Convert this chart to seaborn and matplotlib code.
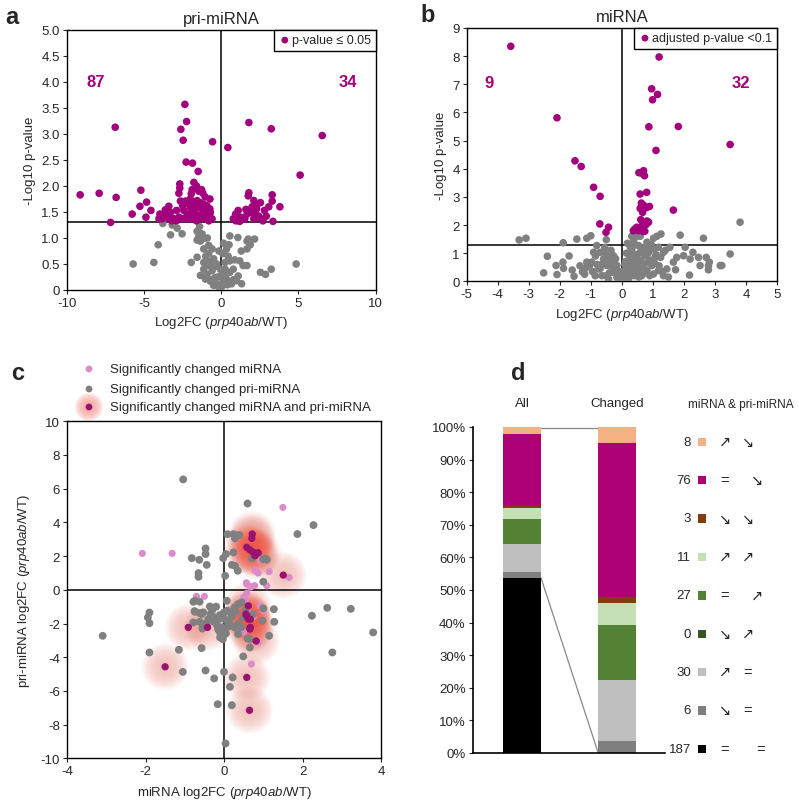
import numpy as np
import pandas as pd
import matplotlib
matplotlib.use("Agg")
import matplotlib.pyplot as plt
from matplotlib.patches import Rectangle
from matplotlib.ticker import FuncFormatter, MultipleLocator
import seaborn as sns

# --- DATA ---
# panel a: pri-miRNA volcano
A_SIG_X = [-9.13, -7.90, -6.86, -6.80, -7.16, -5.76, -5.20, -5.26, -4.83, -4.87, -4.55, -3.97,
           -3.62, -3.39, -4.03, -3.82, -3.60, -3.39, -3.28, -3.07, -2.89, -2.74, -2.74, -2.68,
           -2.68, -2.64, -2.61, -2.53, -2.46, -2.42, -2.35, -2.31, -2.31, -2.27, -2.24, -2.20,
           -2.10, -2.03, -1.99, -1.94, -1.94, -1.88, -1.86, -1.82, -1.77, -1.77, -1.77, -1.67,
           -1.60, -1.56, -1.49, -1.49, -1.49, -1.41, -1.35, -1.27, -1.24, -1.24, -1.19, -1.13,
           -1.13, -1.04, -1.02, -1.02, -0.92, -0.87, -0.73, -0.73, -0.70, -0.59, -0.56, -2.90,
           -2.50, -1.60, -0.80, -3.20, -2.00, -1.45,
           0.43, 0.78, 0.93, 1.10, 1.25, 1.53, 1.67, 1.75, 1.79, 1.79, 1.90, 2.00, 2.11, 2.11,
           2.29, 2.33, 2.43, 2.54, 2.54, 2.80, 2.92, 3.08, 3.24, 3.30, 3.30, 3.35, 3.80, 5.11,
           6.54, 1.20, 2.20, 0.95, 1.60, 2.70]
A_SIG_Y = [1.83, 1.86, 3.13, 1.78, 1.30, 1.46, 1.92, 1.61, 1.69, 1.40, 1.53, 1.46,
           1.54, 1.61, 1.37, 1.37, 1.42, 1.37, 1.49, 1.37, 1.53, 1.40, 1.86, 2.04,
           1.96, 1.71, 3.09, 1.37, 2.88, 1.53, 3.57, 1.71, 1.38, 2.46, 3.24, 1.46,
           1.65, 1.37, 1.59, 1.85, 1.49, 1.93, 2.44, 1.68, 2.07, 1.57, 1.38, 1.46,
           2.00, 1.72, 2.28, 1.59, 1.37, 1.44, 1.68, 1.93, 1.56, 1.38, 1.86, 1.65,
           1.46, 1.79, 1.53, 1.37, 1.62, 1.42, 1.75, 1.56, 1.49, 1.37, 2.85, 1.33,
           1.62, 1.33, 1.33, 1.33, 1.75, 1.90,
           2.74, 1.37, 1.46, 1.53, 1.40, 1.37, 1.46, 1.81, 1.87, 3.22, 1.49, 1.60, 1.72, 1.37,
           1.56, 1.65, 1.42, 1.68, 1.37, 1.53, 1.42, 1.60, 3.10, 1.83, 1.71, 1.32, 1.60, 2.21,
           2.97, 1.32, 1.48, 1.33, 1.55, 1.33]
A_NS_X = [-5.70, -4.36, -4.08, -3.78, -3.28, -3.17, -2.85, -2.53, -1.94, -1.56, -1.56, -1.56,
          -1.45, -1.40, -1.35, -1.35, -1.24, -1.13, -1.13, -1.13, -1.13, -1.02, -0.92, -0.81,
          -0.81, -0.81, -0.70, -0.59, -0.59, -0.49, -0.49, -0.38, -0.27, -0.17, -0.06, 0.00,
          0.03, 0.14, 0.25, 0.25, 0.35, 0.35, 0.51, 0.56, 0.56, 0.56, 0.67, 0.78, 0.88, 0.99,
          1.08, 1.10, 1.20, 1.32, 1.42, 1.67, 1.67, 1.67, 1.75, 1.88, 2.16, 2.54, 2.87, 3.24,
          4.85, -0.30, 0.10, -0.90, 0.40, -0.60, -0.20, 0.20, -0.40, 0.45, -0.70, 0.80, -1.00,
          1.30, -0.15, 0.15]
A_NS_Y = [0.50, 0.53, 0.87, 1.28, 1.06, 1.25, 1.19, 1.08, 0.53, 1.13, 0.96, 0.63,
          1.02, 1.22, 0.94, 0.28, 1.08, 0.99, 0.79, 0.53, 0.40, 0.21, 0.30, 0.86,
          0.70, 0.47, 0.17, 0.79, 0.37, 0.60, 0.09, 0.24, 0.12, 0.06, 0.40, 0.28,
          0.06, 0.15, 0.53, 0.40, 0.79, 0.21, 0.87, 1.04, 0.56, 0.34, 0.12, 0.40, 0.58, 0.18,
          1.01, 0.27, 0.56, 0.12, 0.47, 0.94, 0.79, 0.47, 0.98, 0.87, 0.98, 0.34, 0.30, 0.40,
          0.50, 0.50, 0.70, 1.00, 0.10, 0.20, 0.25, 0.30, 0.45, 0.65, 0.55, 0.20, 0.65,
          0.75, 0.75, 0.90]

# panel b: miRNA volcano
B_SIG_X = [-3.58, -2.09, -1.51, -1.31, -0.91, -0.70, -0.71, -0.43, -0.51,
           1.20, 0.96, 1.15, 0.99, 0.87, 1.82, 1.10, 3.49, 0.55, 0.70, 0.73, 0.62, 0.59, 0.80,
           0.63, 0.59, 0.71, 0.80, 0.89, 0.67, 1.66, 0.61, 0.81, 0.86, 0.42, 0.53, 0.69, 0.37,
           0.48, 0.64, 0.78, 0.74]
B_SIG_Y = [8.35, 5.81, 4.28, 4.08, 3.34, 3.02, 2.04, 1.92, 1.74,
           7.97, 6.84, 6.64, 6.45, 5.49, 5.50, 4.65, 4.86, 3.86, 3.93, 3.75, 3.85, 3.10, 3.16,
           2.78, 2.59, 2.69, 2.62, 2.66, 2.45, 2.53, 2.19, 2.14, 2.10, 1.86, 1.80, 1.77, 1.80,
           1.92, 1.96, 2.02, 1.78]
B_NS_X = [-3.31, -3.09, -2.40, -2.52, -2.12, -2.09, -1.90, -1.88, -1.89, -1.54, -1.45, -1.27,
          -1.18, -1.13, -1.04, -1.00, -1.13, -0.91, -0.81, -0.70, -0.59, -0.50, -0.75, -0.48,
          -0.38, -0.27, -0.16, -0.64, -0.43, -0.97, -0.86, -0.27, -0.16, -0.05, -0.35, -0.20,
          -0.10, -0.55, -0.30, -0.65, -1.60, -1.35, -1.70,
          0.05, 0.16, 0.21, 0.27, 0.32, 0.38, 0.43, 0.54, 0.59, 0.48, 0.38, 0.27, 0.43, 0.64,
          0.75, 0.86, 0.81, 1.02, 1.02, 1.26, 1.13, 1.18, 1.34, 1.07, 0.97, 0.81, 0.64, 1.02,
          1.18, 1.34, 1.45, 1.66, 1.77, 1.88, 2.04, 2.20, 2.18, 1.73, 1.99, 2.29, 2.47, 2.52,
          2.63, 2.72, 2.79, 2.79, 2.82, 3.17, 3.22, 3.49, 3.81, 0.32, 0.59, 0.10, 0.15, 0.22,
          0.50, 0.70, 0.90, 1.50, 1.55, 0.12, 0.35, 0.60,
          0.08, 0.15, 0.20, 0.25, 0.30, 0.35, 0.40, 0.45, 0.50, 0.55, 0.60, 0.65, 0.70, 0.75,
          0.80, 0.85, 0.90, 0.95, 1.05, 1.10, 1.20, 1.25, 1.30, 1.40, -0.08, -0.12, -0.20,
          -0.25, -0.33, -0.40, -0.45, -0.50, -0.55, -0.60, -0.70, -0.80, -0.85, -1.20, -0.95,
          0.18, 0.28, 0.12, 0.42, 0.02]
B_NS_Y = [1.47, 1.53, 0.89, 0.30, 0.56, 0.24, 0.68, 0.46, 1.37, 0.18, 1.50, 0.34,
          0.46, 0.68, 0.56, 1.62, 1.53, 1.03, 1.27, 1.03, 0.79, 1.48, 0.44, 0.56,
          0.68, 0.32, 0.14, 0.20, 0.08, 0.68, 0.20, 0.91, 0.56, 0.02, 1.10, 0.80,
          0.35, 1.20, 0.45, 0.60, 0.40, 0.55, 0.90,
          0.20, 0.44, 0.68, 0.91, 1.15, 1.39, 1.56, 1.27, 1.03, 0.79, 0.56, 0.26, 0.32, 0.62,
          0.91, 1.21, 1.39, 1.15, 1.53, 1.68, 1.60, 1.21, 1.03, 0.85, 0.56, 0.38, 0.20, 0.26,
          0.38, 0.20, 0.44, 0.68, 0.85, 1.64, 1.21, 0.79, 0.22, 0.41, 0.91, 1.03, 0.85, 0.56,
          1.53, 0.85, 0.56, 0.41, 0.68, 0.56, 0.56, 0.97, 2.10, 1.60, 1.60, 0.60, 1.00, 0.10,
          0.50, 1.20, 0.75, 0.15, 1.21, 0.30, 0.75, 0.35,
          0.10, 0.25, 0.50, 0.80, 0.40, 1.00, 0.20, 0.60, 0.95, 0.15, 0.75, 1.10, 0.45, 0.30,
          0.65, 1.00, 0.20, 1.30, 0.65, 0.95, 0.55, 0.85, 0.35, 1.10, 0.15, 0.30, 0.45,
          0.65, 0.85, 0.30, 0.95, 0.20, 0.75, 1.05, 0.45, 0.60, 0.90, 0.25, 0.35,
          1.35, 1.20, 0.70, 1.30, 0.35]

# panel c: miRNA vs pri-miRNA fold change
C_PRI_X = [-3.09, -1.90, -1.94, -1.90, -1.90, -1.15, -1.05, -1.04, -0.82, -0.78, -0.75, -0.74,
           -0.74, -0.78, -0.65, -0.65, -0.63, -0.62, -0.62, -0.62, -0.57, -0.57, -0.53, -0.53,
           -0.47, -0.47, -0.47, -0.44, -0.44, -0.40, -0.36, -0.34, -0.26, -0.25, -0.20, -0.17,
           -0.16, -0.13, -0.10, -0.10, -0.05, -0.03, -0.02, 0.00, 0.00, 0.02, 0.03, 0.04, 0.05,
           0.07, 0.09, 0.09, 0.15, 0.15, 0.19, 0.20, 0.20, 0.22, 0.24, 0.24, 0.27, 0.27, 0.28,
           0.28, 0.30, 0.35, 0.36, 0.36, 0.36, 0.39, 0.44, 0.48, 0.49, 0.60, 0.60, 0.66, 0.66,
           0.71, 0.74, 0.98, 1.00, 1.00, 1.00, 1.06, 1.09, 1.15, 1.27, 1.28, 1.87, 2.24, 2.28,
           2.63, 2.76, 3.23, 3.80, -0.30, -0.20, -0.10, 0.10, 0.20, 0.10, -0.15, 0.30, -0.45,
           -0.55, 0.05, 0.55, 0.45]
C_PRI_Y = [-2.73, -1.35, -1.64, -1.98, -3.72, -3.56, -4.87, 6.55, 1.88, -0.71, -1.27, -0.65,
           -1.30, -1.94, 0.99, 0.77, 1.78, -0.71, -1.38, -1.90, -1.44, -3.46, -1.34, -2.04,
           2.45, 2.12, -4.79, 1.48, -2.14, -1.74, -0.99, -1.44, -1.90, -5.26, -1.64, -2.14,
           -6.79, -1.74, -2.53, -2.83, -2.23, -2.93, 1.88, -4.87, -1.34, -1.74, 0.83, -9.12, 2.12,
           -0.65, 3.30, -1.24, -2.04, -5.76, -1.44, 1.48, -6.85, -5.20, 2.22, 3.30, -1.04, -2.23,
           3.05, 1.42, 3.25, 1.13, -0.85, -2.04, -2.63, 3.25, -2.23, -1.64, -3.95, 5.12, -2.89,
           -3.42, -2.93, 1.86, -1.45, -1.84, 1.82, 0.48, -1.10, 1.86, 1.78, -2.73, -1.15, -1.90,
           3.31, -1.54, 3.84, -1.07, -3.72, -1.13, -2.53, -1.20, -1.00, -1.50, -1.90, -1.60,
           -2.20, -2.35, -1.30, -2.00, -2.30, -2.60, -1.20, -0.75]
C_MI_X = [-2.08, -1.32, -0.70, -0.50, 0.50, 0.57, 0.58, 0.58, 0.66, 0.68, 0.70, 0.78, 0.79,
          0.87, 0.87, 0.92, 0.92, 1.00, 1.09, 1.15, 1.50, 1.66, 0.55, 0.60, 0.75, 0.50]
C_MI_Y = [2.16, 2.16, -0.39, -0.39, -0.45, 0.42, 0.34, -0.20, 0.20, 0.16, -4.41, 0.25, 1.13,
          0.99, -3.12, 1.76, -0.95, -1.25, 0.24, 1.08, 4.89, 0.73, -0.65, -1.30, -1.60, -2.50]
C_BOTH_X = [-1.50, -0.91, -0.42, 0.56, 0.58, 0.58, 0.58, 0.62, 0.62, 0.65, 0.66, 0.66, 0.67,
            0.67, 0.71, 0.72, 0.74, 0.79, 0.82, 0.87, 1.51]
C_BOTH_Y = [-4.57, -2.23, -2.23, -1.44, -1.55, 2.52, -5.20, -0.95, -1.74, -7.15, 2.38, -2.33,
            -1.75, -2.23, 3.05, 3.31, 2.24, 2.02, -3.04, 2.20, 0.87]

# panel d: direction classes (bottom of stack first)
D_COUNTS = [187, 6, 30, 0, 27, 11, 3, 76, 8]
D_MIRNA = ['=', '↘', '↗', '↘', '=', '↗', '↘', '=', '↗']
D_PRI = ['=', '=', '=', '↗', '↗', '↗', '↘', '↘', '↘']
D_COLORS = ['#000000', '#7F7F7F', '#BFBFBF', '#375623', '#548235',
            '#C5E0B4', '#843C0C', '#AE0077', '#F4B183']
D_GROUPS = ['All', 'Changed']

# --- STYLE ---
sns.set_style("white")
plt.rcParams['font.family'] = ['Liberation Sans', 'DejaVu Sans']
plt.rcParams['mathtext.fontset'] = 'custom'
plt.rcParams['mathtext.rm'] = 'Liberation Sans'
plt.rcParams['mathtext.it'] = 'Liberation Sans:italic'

MAG = '#A3007D'
GRAY = '#808080'
PINK = '#DB8CC8'
DARK = '#9A1270'
GLOW = '#EE5A48'
GLOW_LAYERS = [(s, 0.032) for s in np.linspace(1150, 90, 12)]

W, H = 799, 803
fig = plt.figure(figsize=(W / 100, H / 100), dpi=100)


def px_axes(l, t, r, b):
    return fig.add_axes([l / W, 1 - b / H, (r - l) / W, (b - t) / H])


def fx(x):
    return x / W


def fy(y):
    return 1 - y / H


def frame(ax):
    for s in ax.spines.values():
        s.set_visible(True)
        s.set_color('black')
        s.set_linewidth(1.0)
    ax.tick_params(direction='out', length=3, width=0.8, labelsize=9.5, pad=2,
                   bottom=True, left=True)


xlab = r'Log2FC ($\mathit{prp40ab}$/WT)'

# --- PANEL A ---
ax_a = px_axes(66.7, 31, 375.7, 291)
sns.scatterplot(x=A_NS_X, y=A_NS_Y, color=GRAY, s=30, edgecolor='none', ax=ax_a, zorder=3)
sns.scatterplot(x=A_SIG_X, y=A_SIG_Y, color=MAG, s=30, edgecolor='none', ax=ax_a, zorder=3,
                label='p-value ≤ 0.05')
ax_a.axvline(0, color='black', lw=1.1, zorder=2)
ax_a.axhline(1.3, color='black', lw=1.1, zorder=2)
ax_a.set_xlim(-10, 10)
ax_a.set_ylim(0, 5)
ax_a.xaxis.set_major_locator(MultipleLocator(5))
ax_a.yaxis.set_major_locator(MultipleLocator(0.5))
ax_a.yaxis.set_major_formatter(FuncFormatter(lambda v, _: '0' if v == 0 else f'{v:.1f}'))
ax_a.xaxis.set_major_formatter(FuncFormatter(lambda v, _: f'{v:.0f}'))
frame(ax_a)
ax_a.set_title('pri-miRNA', fontsize=12, pad=5)
ax_a.set_xlabel(xlab, fontsize=9.5, labelpad=4)
ax_a.set_ylabel('-Log10 p-value', fontsize=9.5, labelpad=4)
ax_a.text(-8.1, 4.0, '87', color=MAG, fontsize=12, fontweight='bold', ha='center', va='center')
ax_a.text(8.2, 4.0, '34', color=MAG, fontsize=12, fontweight='bold', ha='center', va='center')
leg = ax_a.legend(loc='upper right', borderaxespad=0, fancybox=False, edgecolor='black',
                  framealpha=1, fontsize=9, handletextpad=0.1, handlelength=1.0,
                  borderpad=0.35, markerscale=0.9)
leg.get_frame().set_linewidth(1.0)

# --- PANEL B ---
ax_b = px_axes(466.7, 29, 777, 282.3)
sns.scatterplot(x=B_NS_X, y=B_NS_Y, color=GRAY, s=30, edgecolor='none', ax=ax_b, zorder=3)
sns.scatterplot(x=B_SIG_X, y=B_SIG_Y, color=MAG, s=30, edgecolor='none', ax=ax_b, zorder=3,
                label='adjusted p-value <0.1')
ax_b.axvline(0, color='black', lw=1.1, zorder=2)
ax_b.axhline(1.3, color='black', lw=1.1, zorder=2)
ax_b.set_xlim(-5, 5)
ax_b.set_ylim(0, 9)
ax_b.xaxis.set_major_locator(MultipleLocator(1))
ax_b.yaxis.set_major_locator(MultipleLocator(1))
ax_b.xaxis.set_major_formatter(FuncFormatter(lambda v, _: f'{v:.0f}'))
ax_b.yaxis.set_major_formatter(FuncFormatter(lambda v, _: f'{v:.0f}'))
frame(ax_b)
ax_b.set_title('miRNA', fontsize=12, pad=5)
ax_b.set_xlabel(xlab, fontsize=9.5, labelpad=4)
ax_b.set_ylabel('-Log10 p-value', fontsize=9.5, labelpad=4)
ax_b.text(-4.27, 7.07, '9', color=MAG, fontsize=12, fontweight='bold', ha='center', va='center')
ax_b.text(3.85, 7.07, '32', color=MAG, fontsize=12, fontweight='bold', ha='center', va='center')
leg = ax_b.legend(loc='upper right', borderaxespad=0, fancybox=False, edgecolor='black',
                  framealpha=1, fontsize=9, handletextpad=0.1, handlelength=1.0,
                  borderpad=0.35, markerscale=0.9)
leg.get_frame().set_linewidth(1.0)

# --- PANEL C ---
ax_c = px_axes(67, 422.3, 381, 759.3)
for s, a in GLOW_LAYERS:
    ax_c.scatter(C_BOTH_X, C_BOTH_Y, s=s, color=GLOW, alpha=a, edgecolors='none', zorder=1)
sns.scatterplot(x=C_MI_X, y=C_MI_Y, color=PINK, s=26, edgecolor='none', ax=ax_c, zorder=3)
sns.scatterplot(x=C_PRI_X, y=C_PRI_Y, color=GRAY, s=32, edgecolor='none', ax=ax_c, zorder=3)
sns.scatterplot(x=C_BOTH_X, y=C_BOTH_Y, color=DARK, s=28, edgecolor='none', ax=ax_c, zorder=4)
ax_c.axvline(0, color='black', lw=1.1, zorder=2)
ax_c.axhline(0, color='black', lw=1.1, zorder=2)
ax_c.set_xlim(-4, 4)
ax_c.set_ylim(-10, 10)
ax_c.xaxis.set_major_locator(MultipleLocator(2))
ax_c.yaxis.set_major_locator(MultipleLocator(2))
ax_c.xaxis.set_major_formatter(FuncFormatter(lambda v, _: f'{v:.0f}'))
ax_c.yaxis.set_major_formatter(FuncFormatter(lambda v, _: f'{v:.0f}'))
frame(ax_c)
ax_c.set_xlabel(r'miRNA log2FC ($\mathit{prp40ab}$/WT)', fontsize=9.5, labelpad=5)
ax_c.set_ylabel(r'pri-miRNA log2FC ($\mathit{prp40ab}$/WT)', fontsize=9.5, labelpad=6)

# legend of panel c, drawn above the axes
leg_rows = [(370, PINK, 'Significantly changed miRNA'),
            (390, GRAY, 'Significantly changed pri-miRNA'),
            (408, DARK, 'Significantly changed miRNA and pri-miRNA')]
mx = (89 - 67) / 314
for yy, col, lab in leg_rows:
    my = (759.3 - yy) / 337
    if col == DARK:
        for s, a in np.column_stack([np.linspace(420, 60, 8), np.full(8, 0.07)]):
            ax_c.scatter([mx], [my], s=s, color=GLOW, alpha=a, edgecolors='none',
                         transform=ax_c.transAxes, clip_on=False)
    ax_c.scatter([mx], [my], s=24, color=col, edgecolors='none',
                 transform=ax_c.transAxes, clip_on=False, zorder=5)
    fig.text(fx(110), fy(yy), lab, fontsize=9.5, va='center', ha='left')

# --- PANEL D ---
ax_d = px_axes(472.7, 428, 665, 754)
df = pd.DataFrame({'count': D_COUNTS, 'mirna': D_MIRNA, 'pri': D_PRI, 'color': D_COLORS})
df['All'] = df['count'] / df['count'].sum() * 100
changed = df['count'].where(~((df['mirna'] == '=') & (df['pri'] == '=')), 0)
df['Changed'] = changed / changed.sum() * 100
for i, g in enumerate(D_GROUPS):
    bottoms = df[g].cumsum() - df[g]
    ax_d.bar([i] * len(df), df[g], bottom=bottoms, width=0.4, color=df['color'],
             edgecolor='none', zorder=2)
    ax_d.text(i, 107.5, g, ha='center', va='center', fontsize=9.5, clip_on=False)
black_top = df['All'].iloc[0]
ax_d.plot([0.2, 0.8], [99.6, 99.6], color='#888888', lw=0.9, zorder=1)
ax_d.plot([0.2, 0.8], [black_top, 0], color='#888888', lw=0.9, zorder=1)
ax_d.set_xlim(-0.516, 1.5)
ax_d.set_ylim(0, 100)
ax_d.set_xticks([])
ax_d.yaxis.set_major_locator(MultipleLocator(10))
ax_d.yaxis.set_major_formatter(FuncFormatter(lambda v, _: f'{v:.0f}%'))
for side in ['top', 'right']:
    ax_d.spines[side].set_visible(False)
for side in ['left', 'bottom']:
    ax_d.spines[side].set_color('black')
    ax_d.spines[side].set_linewidth(1.2)
ax_d.tick_params(axis='y', direction='out', length=3, width=0.8, labelsize=9.5, pad=2, left=True)

# legend of panel d on the right
fig.text(fx(741), fy(405), 'miRNA & pri-miRNA', fontsize=8.5, ha='center', va='center')
n = len(df)
for k in range(n):
    idx = n - 1 - k
    yy = 442.7 + k * 38.4
    row = df.iloc[idx]
    fig.text(fx(691), fy(yy), str(row['count']), fontsize=9.5, ha='right', va='center')
    fig.add_artist(Rectangle((fx(697.5), fy(yy + 4.2)), 8.4 / W, 8.4 / H,
                             transform=fig.transFigure, color=row['color'], lw=0))
    x2 = 757 if row['mirna'] == '=' else 748
    if row['mirna'] == '=' and row['pri'] == '=':
        x2 = 761
    fig.text(fx(725), fy(yy), row['mirna'], fontsize=10.5, ha='center', va='center')
    fig.text(fx(x2), fy(yy), row['pri'], fontsize=10.5, ha='center', va='center')

# panel letters
for lab, x, y in [('a', 12, 17), ('b', 428, 15), ('c', 18, 373), ('d', 518, 373)]:
    fig.text(fx(x), fy(y), lab, fontsize=17, fontweight='bold', ha='center', va='center')

fig.savefig('out.png', dpi=100)
